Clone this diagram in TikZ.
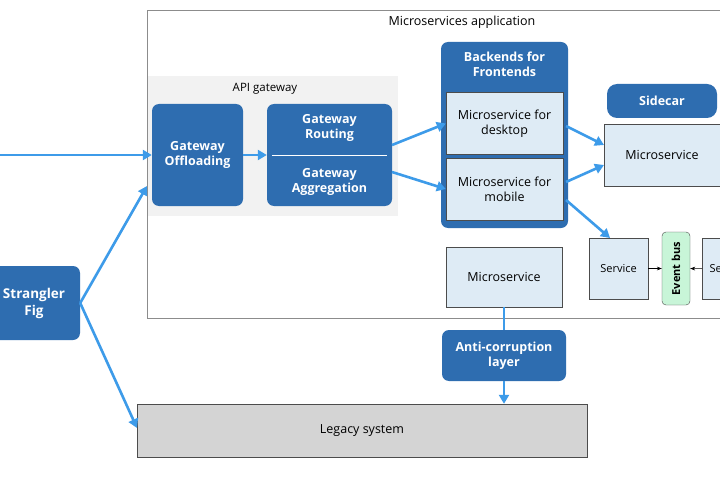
\documentclass[tikz,border=0pt]{standalone}
\usepackage{fontspec}
\setmainfont{Open Sans}
\usetikzlibrary{arrows.meta,calc}
\definecolor{dblue}{HTML}{2E6DB0}
\definecolor{lblue}{HTML}{DEEBF5}
\definecolor{ablue}{HTML}{3D9BE9}
\definecolor{gbg}{HTML}{F2F2F2}
\definecolor{ggreen}{HTML}{C8F5D8}
\begin{document}
\begin{tikzpicture}[x=1pt,y=-1pt,
  dark/.style={draw=none,fill=dblue,rounded corners=7pt,text=white,font=\fontsize{12.5}{15}\selectfont\bfseries,align=center},
  light/.style={draw=black!70,fill=lblue,font=\fontsize{12.5}{15}\selectfont,align=center},
  arr/.style={draw=ablue,line width=2.6pt,-{Triangle[length=9pt,width=10pt]}},
  sarr/.style={draw=black,line width=0.6pt,-{Stealth[length=5pt]}}]
\useasboundingbox (0,0) rectangle (720,500);
\clip (0,0) rectangle (720,500);
\fill[white] (0,0) rectangle (720,500);
% containers
\node[draw=black!45,line width=1.2pt,minimum width=600pt,minimum height=308pt,anchor=north west] (app) at (147,10) {};
\node[font=\fontsize{12.5}{15}\selectfont] (applbl) at (462,22) {Microservices application};
\node[fill=gbg,minimum width=250pt,minimum height=140pt,anchor=north west] (gw) at (148,76) {};
\node[font=\fontsize{11.5}{14}\selectfont] (gwlbl) at (265,89) {API gateway};
% nodes
\node[dark,minimum width=91pt,minimum height=102pt] (off) at (197.5,155) {Gateway\\Offloading};
\node[dark,minimum width=125pt,minimum height=102pt] (ra) at (329.5,155) {};
\node[text=white,font=\fontsize{12.5}{15}\selectfont\bfseries,align=center] (rout) at (329.5,128) {Gateway\\Routing};
\node[text=white,font=\fontsize{12.5}{15}\selectfont\bfseries,align=center] (aggr) at (329.5,182) {Gateway\\Aggregation};
\draw[white,line width=0.8pt] ($(ra.west)+(5,0)$) -- ($(ra.east)+(-5,0)$);
\node[dark,minimum width=127pt,minimum height=186pt] (bff) at (504.5,135) {};
\node[text=white,font=\fontsize{12.5}{15}\selectfont\bfseries,align=center] (bfft) at (504.5,64) {Backends for\\Frontends};
\node[light,minimum width=117pt,minimum height=62pt] (desk) at (504.5,123.5) {Microservice for\\desktop};
\node[light,minimum width=117pt,minimum height=62pt] (mob) at (504.5,189) {Microservice for\\mobile};
\node[dark,minimum width=110pt,minimum height=34pt,rounded corners=10pt] (side) at (662,101) {Sidecar};
\node[light,minimum width=130pt,minimum height=62pt,anchor=north west] (ms1) at (604,124) {};
\node[font=\fontsize{12.5}{15}\selectfont] (ms1t) at (662,155) {Microservice};
\node[light,minimum width=59pt,minimum height=61pt,font=\fontsize{11}{13}\selectfont] (svc) at (618.5,268.5) {Service};
\node[draw=black!70,fill=ggreen,rounded corners=4pt,minimum width=28pt,minimum height=73pt] (bus) at (676,268.5) {};
\node[rotate=90,font=\fontsize{11}{13}\selectfont\bfseries] (bust) at (676,268.5) {Event bus};
\node[light,minimum width=59pt,minimum height=61pt,anchor=north west] (svc2) at (702,238) {};
\node[font=\fontsize{11}{13}\selectfont,anchor=west] (svc2t) at (706,268.5) {Se};
\node[light,minimum width=116pt,minimum height=60pt] (ms2) at (504,277) {Microservice};
\node[dark,minimum width=124pt,minimum height=51pt] (acl) at (504,355.5) {Anti-corruption\\layer};
\node[draw=black!70,fill=black!17,minimum width=450pt,minimum height=53pt,font=\fontsize{12.5}{15}\selectfont] (leg) at (362,430.5) {Legacy system};
\node[dark,minimum width=92pt,minimum height=74pt,font=\fontsize{13.5}{17}\selectfont\bfseries] (sf) at (34,303) {Strangler\\Fig};
\coordinate (in) at (0,155);
% connectors
\draw[arr] (in) -- (off.west);
\draw[arr] (sf.east) -- (147,186);
\draw[arr] (sf.east) -- (137,428);
\draw[arr] (off.east) -- (ra.west);
\draw[arr] (392,145) -- (desk.west);
\draw[arr] (392,172) -- (mob.west);
\draw[arr] (566,126) -- (604,145);
\draw[arr] (566,182) -- (604,165);
\draw[arr] (566,200) -- (610,238);
\draw[sarr] (svc.east) -- (bus.west);
\draw[sarr] (svc2.west) -- (bus.east);
\draw[ablue,line width=2.6pt] (ms2.south) -- (acl.north);
\draw[arr] (acl.south) -- (leg.north -| acl.south);
\end{tikzpicture}
\end{document}
